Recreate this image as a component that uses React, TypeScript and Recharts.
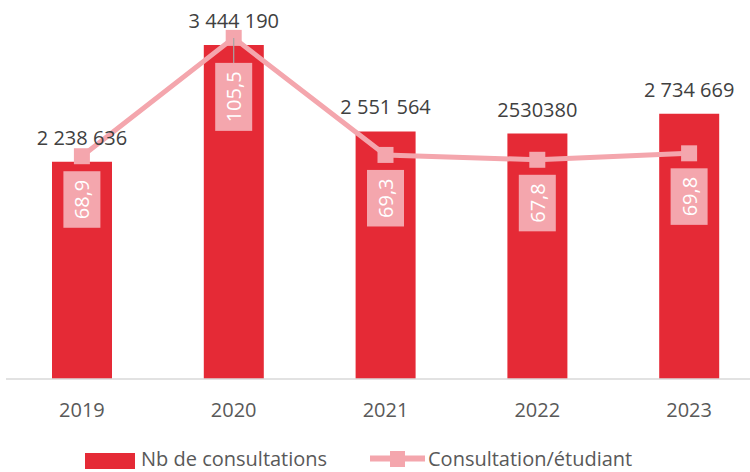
import React from 'react';
import { ComposedChart, Bar, Line, XAxis, YAxis, LabelList } from 'recharts';

const years = ['2019', '2020', '2021', '2022', '2023'];
const consultations = [2238636, 3444190, 2551564, 2530380, 2734669];
const consultationLabels = ['2 238 636', '3 444 190', '2 551 564', '2530380', '2 734 669'];
const perStudent = [68.9, 105.5, 69.3, 67.8, 69.8];
const perStudentLabels = ['68,9', '105,5', '69,3', '67,8', '69,8'];
const seriesNames = ['Nb de consultations', 'Consultation/étudiant'];

const data = years.map((y, i) => ({
  year: y,
  nb: consultations[i],
  nbLabel: consultationLabels[i],
  ratio: perStudent[i],
  ratioLabel: perStudentLabels[i],
}));

const RED = '#E52A36';
const PINK = '#F4A6AD';
const FONT = '"Open Sans", sans-serif';
const DRAGGED_INDEX = 1;

const BarLabel = (props: any) => {
  const { x, y, width, value } = props;
  return (
    <text x={x + width / 2} y={y - 17} textAnchor="middle" fill="#404040" fontSize={20} fontFamily={FONT}>
      {value}
    </text>
  );
};

const LineLabel = (props: any) => {
  const { x, y, value, index } = props;
  const str = String(value);
  const n = str.length;
  const h = 11.45 * (n - 1) + 5.2 + 17;
  const w = 37;
  const gap = index === DRAGGED_INDEX ? 25 : 15;
  const top = y + gap;
  const cy = top + h / 2;
  return (
    <g>
      {index === DRAGGED_INDEX && (
        <line x1={x} y1={y} x2={x} y2={top} stroke="#A6A6A6" strokeWidth={1.2} />
      )}
      <rect x={x - w / 2} y={top} width={w} height={h} fill={PINK} />
      <text
        x={x}
        y={cy}
        transform={`rotate(-90, ${x}, ${cy})`}
        textAnchor="middle"
        dominantBaseline="central"
        fill="#FFFFFF"
        fontSize={20}
        fontFamily={FONT}
      >
        {str}
      </text>
    </g>
  );
};

const SquareDot = (props: any) => {
  const { cx, cy, index } = props;
  return <rect key={`d${index}`} x={cx - 8} y={cy - 8} width={16} height={16} fill={PINK} />;
};

const YearTick = (props: any) => {
  const { x, y, payload } = props;
  return (
    <text x={x} y={y + 32} textAnchor="middle" fill="#595959" fontSize={20} fontFamily={FONT}>
      {payload.value}
    </text>
  );
};

export default function App() {
  return (
    <div style={{ position: 'absolute', left: 0, top: 0, width: 750, height: 472, overflow: 'hidden', background: '#fff' }}>
      <div style={{ position: 'absolute', left: 0, top: -9 }}>
        <ComposedChart
          width={770}
          height={440}
          data={data}
          margin={{ top: 0, right: 5, left: 6, bottom: 0 }}
        >
          <XAxis
            dataKey="year"
            xAxisId={0}
            height={52}
            tickLine={false}
            tickSize={0}
            tickMargin={6}
            axisLine={{ stroke: '#D9D9D9', strokeWidth: 1.5 }}
            tick={<YearTick />}
            interval={0}
          />
          <YAxis yAxisId="left" domain={[0, 4000000]} hide />
          <YAxis yAxisId="right" orientation="right" domain={[0, 120]} hide />
          <Bar yAxisId="left" dataKey="nb" fill={RED} barSize={60} isAnimationActive={false} name={seriesNames[0]}>
            <LabelList dataKey="nbLabel" content={<BarLabel />} />
          </Bar>
          <Line
            yAxisId="right"
            dataKey="ratio"
            stroke={PINK}
            strokeWidth={5}
            dot={<SquareDot />}
            activeDot={false}
            isAnimationActive={false}
            name={seriesNames[1]}
          >
            <LabelList dataKey="ratioLabel" content={<LineLabel />} />
          </Line>
        </ComposedChart>
      </div>
      <svg style={{ position: 'absolute', left: 0, top: 0 }} width={750} height={472}>
        <rect x={85} y={453} width={50} height={16} fill={RED} />
        <text x={141} y={466} fill="#595959" fontSize={20} fontFamily={FONT}>{seriesNames[0]}</text>
        <line x1={370} y1={458.5} x2={425} y2={458.5} stroke={PINK} strokeWidth={6} />
        <rect x={390} y={451} width={15} height={16} fill={PINK} />
        <text x={428} y={466} fill="#595959" fontSize={20} fontFamily={FONT}>{seriesNames[1]}</text>
      </svg>
    </div>
  );
}
